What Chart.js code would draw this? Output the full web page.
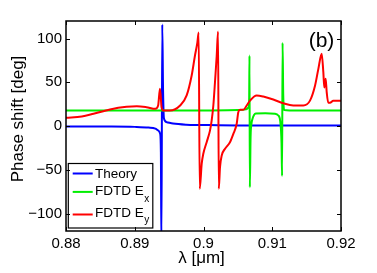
<!DOCTYPE html>
<html><head><meta charset="utf-8">
<script src="https://cdn.jsdelivr.net/npm/chart.js@4"></script>
<style>html,body{margin:0;padding:0;background:#fff}</style>
</head><body>
<canvas id="c" width="377" height="273" style="width:377px;height:273px;display:block"></canvas>
<script>
// ---- data ----
const xTicks = [0.88, 0.89, 0.90, 0.91, 0.92];
const xTickLabels = ['0.88', '0.89', '0.9', '0.91', '0.92'];
const yTicks = [-100, -50, 0, 50, 100];
const yTickLabels = ['\u2212100', '\u221250', '0', '50', '100'];
const seriesNames = ['Theory', 'FDTD E', 'FDTD E'];
const seriesSubs = ['', 'x', 'y'];

const thLam = [0.8800,0.8860,0.8900,0.8920,0.8930,0.8934,0.8937,0.89380,0.89388,0.89400,0.89412,0.89425,0.89465,0.89556,0.8975,0.8995,0.9050,0.9200];
const thVal = [-0.5,-0.6,-1,-1.8,-3,-5,-9,-30,-135,116,40,8.6,4.4,2.8,1.5,1.2,0.6,0.5];

const exLam = [0.8800,0.9000,0.9050,0.9062,0.90650,0.90664,0.90669,0.90674,0.90685,0.90695,0.90712,0.90735,0.9076,0.9090,0.9104,0.91088,0.91115,0.91135,0.91143,0.91150,0.91160,0.91175,0.9125,0.9200];
const exVal = [17.7,17.7,18.2,19,21,30,80.5,-70,-12,1,8,12.5,14.3,14.5,14,12,6,-20,-57,95,35,18.2,17.7,17.7];

const eyLam = [0.8800,0.8823,0.8840,0.8864,0.8888,0.8903,0.8917,0.8930,0.8934,0.89367,0.8939,0.89415,0.8951,0.8966,0.89755,0.89828,0.89876,0.8991,0.8993,0.89945,0.89974,0.89997,0.90046,0.90095,0.90119,0.90143,0.90167,0.90192,0.90212,0.90222,0.90240,0.90265,0.90313,0.90385,0.90434,0.90483,0.90506,0.90531,0.90579,0.90628,0.90676,0.90773,0.9087,0.91015,0.9116,0.91306,0.91452,0.91549,0.91622,0.9167,0.91719,0.91743,0.91757,0.91777,0.91792,0.91815,0.9184,0.91888,0.9200];
const eyVal = [9.4,10.9,14,18.9,21.9,22.6,21.5,19.6,23.4,42.5,21.5,17.7,17.7,23.4,34.9,57.7,80.6,95,107,-71.8,-43,-31.8,-18.5,-5,6.3,23.4,50,80,108,-71.8,-47,-33.7,-26,-18.5,-9,2.5,15.8,18.5,18.5,23.4,29,34.9,33.7,30.3,26,23.4,23.4,29,46,65,82.5,61.5,44,54,38.7,26.5,26.5,29,29];

// ---- chart ----
const FONT = '"Liberation Sans", Arial, Helvetica, sans-serif';
const colors = ['#0000ff', '#00ee00', '#ff0000'];
const pts = (l, v) => l.map((x, i) => ({x: x, y: v[i]}));

const deco = {
  id: 'deco',
  afterDatasetsDraw(chart) {
    const {ctx, chartArea: a, scales: {x, y}} = chart;
    ctx.save();
    // legend box
    const lx = a.left + 2.3, ly = a.bottom - 67.5, lw = 84.5, lh = 64.5;
    ctx.fillStyle = '#fff';
    ctx.fillRect(lx, ly, lw, lh);
    ctx.strokeStyle = '#000'; ctx.lineWidth = 1.2;
    ctx.strokeRect(lx, ly, lw, lh);
    const rowsLine = [10, 28.4, 51];
    const rowsBase = [14.4, 31.7, 53.4];
    const subBase = [0, 38.4, 59.2];
    for (let i = 0; i < 3; i++) {
      ctx.strokeStyle = colors[i]; ctx.lineWidth = 2;
      ctx.beginPath(); ctx.moveTo(lx + 4.4, ly + rowsLine[i]); ctx.lineTo(lx + 24.4, ly + rowsLine[i]); ctx.stroke();
      ctx.fillStyle = '#000'; ctx.textBaseline = 'alphabetic'; ctx.textAlign = 'left';
      ctx.font = '13.5px ' + FONT;
      ctx.fillText(seriesNames[i], lx + 26.7, ly + rowsBase[i]);
      if (seriesSubs[i]) {
        const w = ctx.measureText(seriesNames[i]).width;
        ctx.font = '10px ' + FONT;
        ctx.fillText(seriesSubs[i], lx + 26.7 + w + 0.5, ly + subBase[i]);
      }
    }
    // axes box
    ctx.strokeStyle = '#000'; ctx.lineWidth = 1.5;
    ctx.strokeRect(a.left, a.top, a.right - a.left, a.bottom - a.top);
    // inward ticks
    ctx.lineWidth = 1;
    const tl = 4;
    ctx.beginPath();
    xTicks.forEach(v => {
      const px = Math.round(x.getPixelForValue(v)) + 0.5;
      ctx.moveTo(px, a.bottom); ctx.lineTo(px, a.bottom - tl);
      ctx.moveTo(px, a.top); ctx.lineTo(px, a.top + tl);
    });
    yTicks.forEach(v => {
      const py = Math.round(y.getPixelForValue(v)) + 0.5;
      ctx.moveTo(a.left, py); ctx.lineTo(a.left + tl, py);
      ctx.moveTo(a.right, py); ctx.lineTo(a.right - tl, py);
    });
    ctx.stroke();
    // panel label
    ctx.fillStyle = '#000'; ctx.font = '21px ' + FONT; ctx.textAlign = 'center'; ctx.textBaseline = 'alphabetic';
    ctx.fillText('(b)', 321.5, 47);
    // axis titles
    ctx.font = '17px ' + FONT; ctx.textBaseline = 'middle';
    ctx.fillText('\u03bb [\u03bcm]', 201.5, 258);
    ctx.save();
    ctx.translate(18, 119); ctx.rotate(-Math.PI / 2);
    ctx.fillText('Phase shift [deg]', 0, 0);
    ctx.restore();
    ctx.restore();
  }
};

new Chart(document.getElementById('c'), {
  type: 'line',
  data: {
    datasets: [
      {label: 'Theory', data: pts(thLam, thVal), borderColor: colors[0], order: 3},
      {label: 'FDTD Ex', data: pts(exLam, exVal), borderColor: colors[1], order: 2},
      {label: 'FDTD Ey', data: pts(eyLam, eyVal), borderColor: colors[2], order: 1}
    ].map(d => Object.assign(d, {borderWidth: 2, pointRadius: 0, fill: false, cubicInterpolationMode: 'monotone', clip: 0}))
  },
  options: {
    responsive: false, animation: false, devicePixelRatio: 1,
    layout: {padding: {top: 21, right: 36, left: 0, bottom: 0}},
    plugins: {legend: {display: false}, tooltip: {enabled: false}},
    scales: {
      x: {
        type: 'linear', min: 0.88, max: 0.92,
        afterBuildTicks: s => { s.ticks = xTicks.map(v => ({value: v})); },
        afterFit: s => { s.height = 42; },
        grid: {display: false, drawTicks: false}, border: {display: false},
        ticks: {padding: 4, color: '#000', font: {family: FONT, size: 15}, maxRotation: 0, autoSkip: false,
          callback: (v, i) => xTickLabels[i]}
      },
      y: {
        type: 'linear', min: -120, max: 120,
        afterBuildTicks: s => { s.ticks = yTicks.map(v => ({value: v})); },
        afterFit: s => { s.width = 66; },
        grid: {display: false, drawTicks: false}, border: {display: false},
        ticks: {padding: 4, color: '#000', font: {family: FONT, size: 15}, autoSkip: false,
          callback: (v, i) => yTickLabels[i]}
      }
    }
  },
  plugins: [deco]
});
</script>
</body></html>
